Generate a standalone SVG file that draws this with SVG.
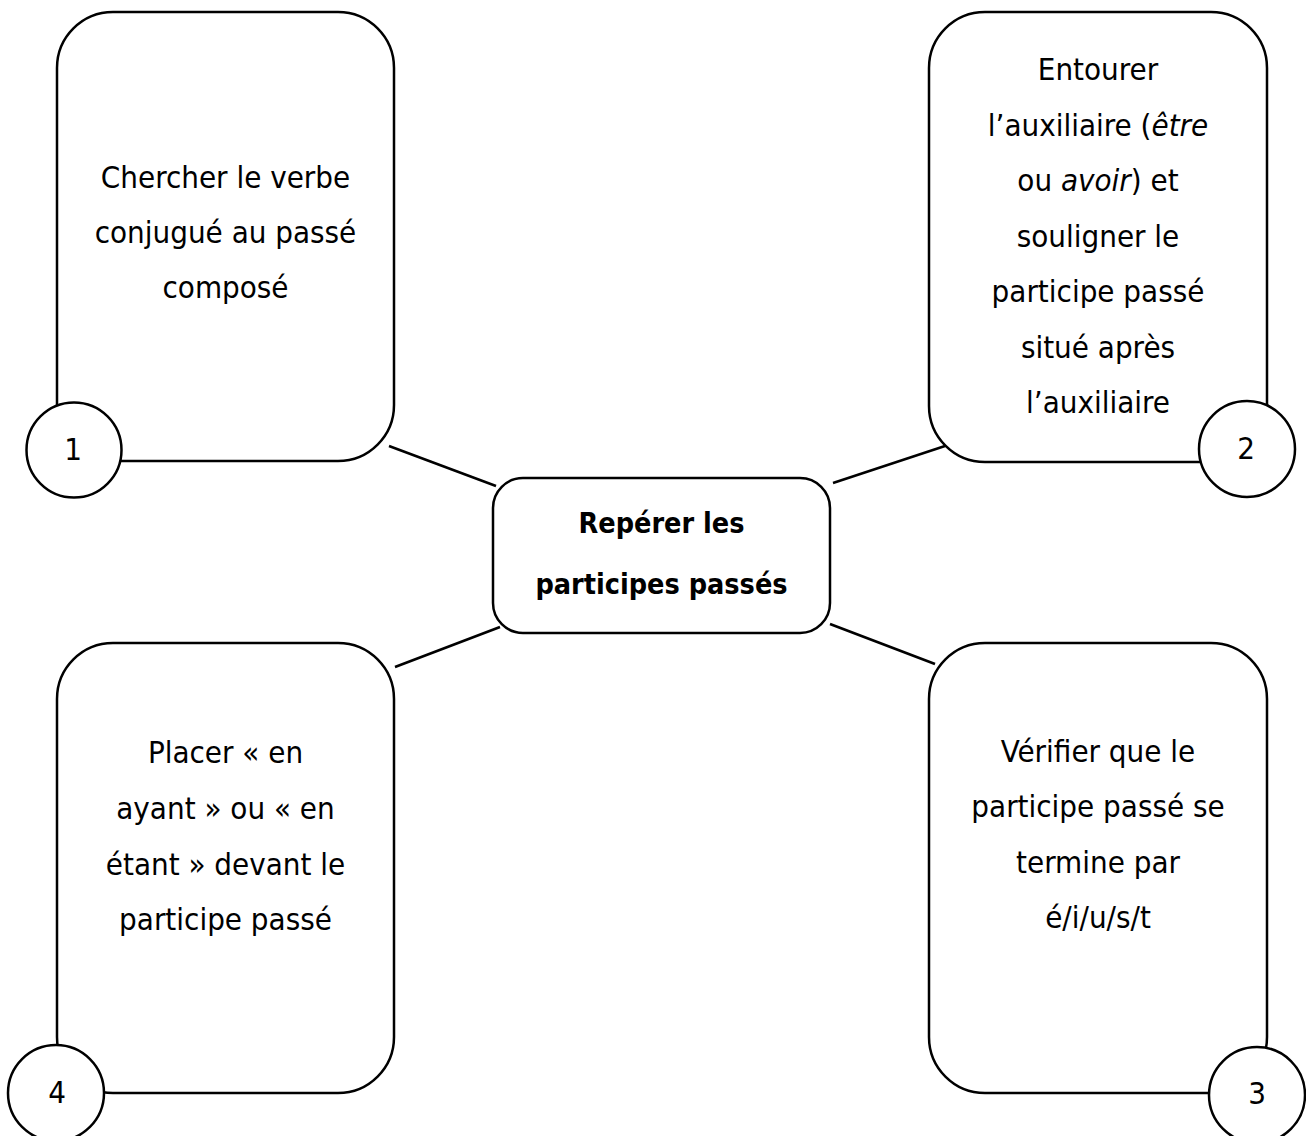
<svg xmlns="http://www.w3.org/2000/svg" width="1306" height="1136" viewBox="0 0 1306 1136">
<style>
.box{fill:#fff;stroke:#000;stroke-width:2.5}
.num{fill:#fff;stroke:#000;stroke-width:2.5}
.conn line{stroke:#000;stroke-width:2.5}
text{font-family:"DejaVu Sans Condensed","DejaVu Sans",sans-serif;font-size:31px;fill:#000;text-anchor:middle}
.b{font-weight:bold;font-size:28.5px}
.i{font-style:italic}
</style>
<rect width="1306" height="1136" fill="#fff"/>
<g class="conn" id="connectors">
<line x1="389" y1="446" x2="496" y2="486"/>
<line x1="833" y1="483" x2="945" y2="446"/>
<line x1="500" y1="627" x2="395" y2="667"/>
<line x1="830" y1="624" x2="935" y2="664"/>
</g>
<g id="center">
<rect class="box" x="493" y="478" width="337" height="155" rx="30"/>
<text class="b" x="661.5" y="533">Repérer les</text>
<text class="b" x="661.5" y="594">participes passés</text>
</g>
<g id="step1">
<rect class="box" x="57" y="12" width="337" height="449" rx="56"/>
<text x="225.5" y="188">Chercher le verbe</text>
<text x="225.5" y="243">conjugué au passé</text>
<text x="225.5" y="298">composé</text>
<circle class="num" cx="74" cy="450" r="47.5"/>
<text x="73" y="460">1</text>
</g>
<g id="step2">
<rect class="box" x="929" y="12" width="338" height="450" rx="56"/>
<text x="1098" y="80">Entourer</text>
<text x="1098" y="136">l’auxiliaire (<tspan class="i">être</tspan></text>
<text x="1098" y="191">ou <tspan class="i">avoir</tspan>) et</text>
<text x="1098" y="247">souligner le</text>
<text x="1098" y="302">participe passé</text>
<text x="1098" y="358">situé après</text>
<text x="1098" y="413">l’auxiliaire</text>
<circle class="num" cx="1247" cy="449" r="48"/>
<text x="1246" y="459">2</text>
</g>
<g id="step3">
<rect class="box" x="929" y="643" width="338" height="450" rx="56"/>
<text x="1098" y="762">Vérifier que le</text>
<text x="1098" y="817">participe passé se</text>
<text x="1098" y="873">termine par</text>
<text x="1098" y="928">é/i/u/s/t</text>
<circle class="num" cx="1257" cy="1095" r="48"/>
<text x="1257" y="1104">3</text>
</g>
<g id="step4">
<rect class="box" x="57" y="643" width="337" height="450" rx="56"/>
<text x="225.5" y="763">Placer « en</text>
<text x="225.5" y="819">ayant » ou « en</text>
<text x="225.5" y="875">étant » devant le</text>
<text x="225.5" y="930">participe passé</text>
<circle class="num" cx="56" cy="1093" r="48"/>
<text x="57" y="1103">4</text>
</g>
</svg>
